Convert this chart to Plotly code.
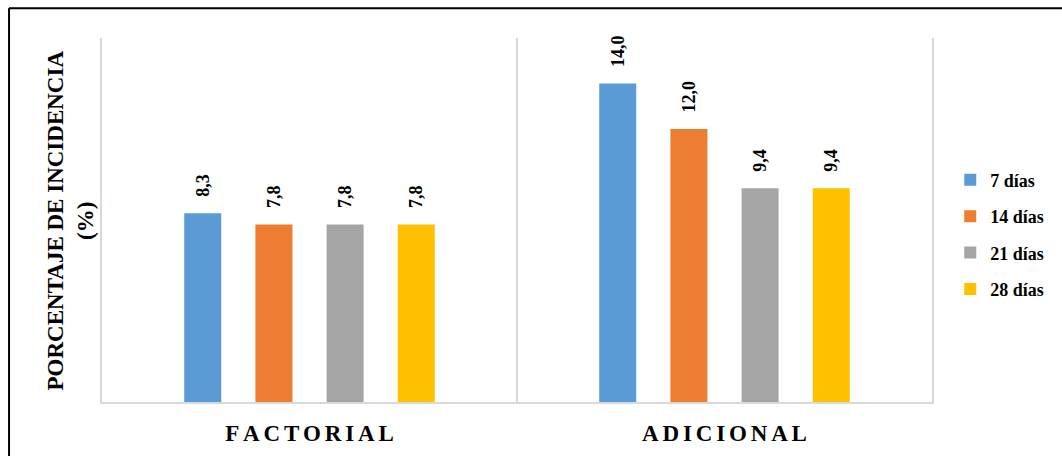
import plotly.graph_objects as go

# Data
categories = ["FACTORIAL", "ADICIONAL"]
series_names = ["7 días", "14 días", "21 días", "28 días"]
values_7 = [8.3, 14.0]
values_14 = [7.8, 12.0]
values_21 = [7.8, 9.4]
values_28 = [7.8, 9.4]
colors = ["#5B9BD5", "#ED7D31", "#A5A5A5", "#FFC000"]

FONT = "Liberation Serif, Times New Roman, serif"
GRID = "#D9D9D9"

# Letter-spaced category labels
cat_labels = ["\u2006".join(list(c)) for c in categories]

fig = go.Figure()
for name, vals, col in zip(series_names, [values_7, values_14, values_21, values_28], colors):
    fig.add_trace(go.Bar(
        name=name,
        x=cat_labels,
        y=vals,
        marker=dict(color=col, line=dict(width=0)),
        texttemplate="\u00a0\u00a0\u00a0%{y:.1f}",
        textposition="outside",
        textangle=-90,
        constraintext="none",
        cliponaxis=False,
        textfont=dict(family=FONT, size=18, color="black", weight="bold"),
        legendgroup=name,
    ))

fig.update_layout(
    width=1062,
    height=456,
    margin=dict(l=102, r=130, t=38, b=54, autoexpand=False),
    paper_bgcolor="white",
    plot_bgcolor="white",
    barmode="group",
    bargap=0.314,
    bargroupgap=0.48,
    separators=",.",
    showlegend=True,
    legend=dict(
        x=1.022, xanchor="left", y=0.46, yanchor="middle",
        font=dict(family=FONT, size=18, color="black", weight="bold"),
        tracegroupgap=10,
        bgcolor="rgba(0,0,0,0)",
    ),
    xaxis=dict(
        showline=True, linecolor=GRID, linewidth=2,
        showgrid=False, ticks="outside", ticklen=9, tickcolor="rgba(0,0,0,0)",
        tickfont=dict(family=FONT, size=23, color="black", weight="bold"),
        range=[-0.5, 1.5],
    ),
    yaxis=dict(
        range=[0, 16],
        showline=True, mirror=True, linecolor=GRID, linewidth=2,
        showgrid=False, showticklabels=False, ticks="", zeroline=False,
    ),
    annotations=[dict(
        text="PORCENTAJE DE INCIDENCIA<br>(%)",
        xref="paper", yref="paper", x=-0.038, y=0.5,
        xanchor="center", yanchor="middle", textangle=-90, showarrow=False,
        font=dict(family=FONT, size=23, color="black", weight="bold"),
    )],
    shapes=[
        # divider between the two groups
        dict(type="line", xref="x", yref="paper", x0=0.5, x1=0.5, y0=0, y1=1,
             line=dict(color=GRID, width=2)),
        # outer frame (top and left edges)
        dict(type="line", xref="paper", yref="paper", x0=-0.112, x1=1.16, y0=1.082, y1=1.082,
             line=dict(color="black", width=2)),
        dict(type="line", xref="paper", yref="paper", x0=-0.112, x1=-0.112, y0=1.082, y1=-0.16,
             line=dict(color="black", width=2)),
    ],
)

fig.write_html("out.html")
